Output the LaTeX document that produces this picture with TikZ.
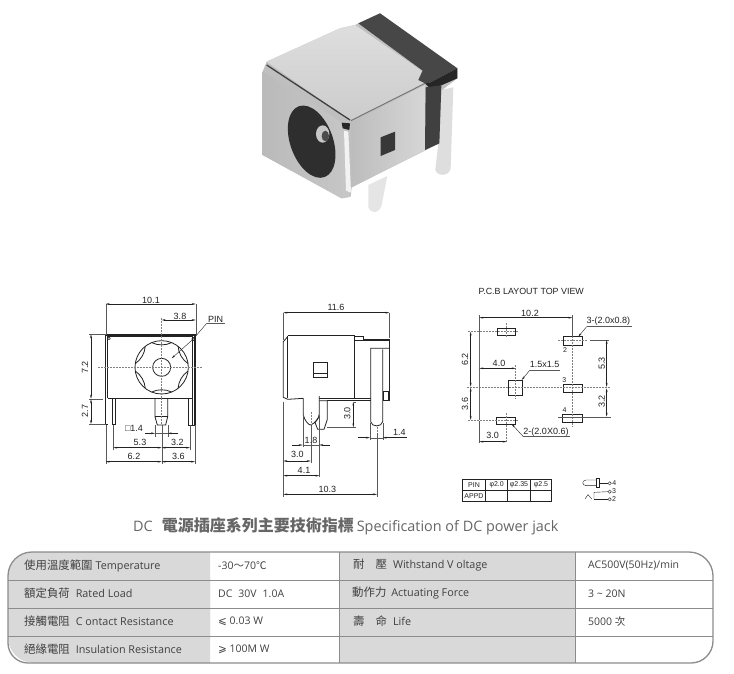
\documentclass[tikz,border=0pt]{standalone}
\usepackage{fontspec}
\usetikzlibrary{arrows.meta}
\setmainfont{Open Sans}
\newfontfamily\cjk{Noto Sans CJK TC}
\newfontfamily\dimfont{Liberation Sans}
\newfontfamily\symfont{DejaVu Sans}
\newcommand{\cj}[1]{{\cjk\fontsize{11.4}{13}\selectfont #1}}
\definecolor{tabtext}{HTML}{404040}
\definecolor{tabfill}{HTML}{D9D9D9}
\definecolor{tabline}{HTML}{8C8C8C}
\definecolor{inkline}{HTML}{222222}
\tikzset{
  dimline/.style={draw=inkline,line width=.4pt,{Stealth[length=4pt,width=1.8pt]}-{Stealth[length=4pt,width=1.8pt]}},
  dimleft/.style={draw=inkline,line width=.4pt,-{Stealth[length=4pt,width=1.8pt]}},
  extline/.style={draw=inkline!75,line width=.3pt},
  cenline/.style={draw=black!50,line width=.35pt,dash pattern=on 2pt off 1pt},
  partline/.style={draw=inkline,line width=.8pt},
  dimlab/.style={font=\dimfont\fontsize{9}{10}\selectfont,text=inkline,inner sep=0pt},
  cellhead/.style={anchor=west,inner sep=0pt,text=tabtext,font=\fontsize{10.8}{13}\selectfont},
  cellval/.style={anchor=west,inner sep=0pt,text=tabtext,font=\fontsize{10.5}{13}\selectfont},
  smallcell/.style={font=\dimfont\fontsize{7}{8}\selectfont,text=inkline,inner sep=0pt},
  rowrule/.style={draw=tabline,line width=.9pt},
}
\begin{document}
\begin{tikzpicture}[x=1pt,y=-1pt]
\useasboundingbox (0,0) rectangle (734,674);
\fill[white] (0,0) rectangle (734,674);

%% ---------- photograph ----------
\begin{scope}[shift={(240,0)},scale=1/3]
  % pins behind
  \fill[black!13] (603,270) -- (640,262) -- (632,505) .. controls (628,530) and (592,530) .. (586,510) -- (595,430) -- cycle;
  \fill[black!10] (385,555) -- (442,528) -- (425,615) .. controls (418,640) and (392,645) .. (385,620) -- cycle;
  % silhouette
  \fill[black!25] (68,215) -- (80,185) -- (300,85) -- (345,75) -- (420,40) -- (652,205) -- (652,235) -- (604,272) -- (598,430) -- (335,562) -- (332,590) -- (305,595) -- (68,465) -- cycle;
  % top face
  \shade[top color=black!13,bottom color=black!20] (80,185) -- (300,85) -- (345,75) -- (545,212) -- (535,240) -- (555,250) -- (330,360) -- cycle;
  % dark band on top
  \fill[black!72] (355,70) -- (420,40) -- (652,205) -- (570,248) -- (555,250) -- (535,240) -- (548,212) -- cycle;
  \fill[black!85] (652,205) -- (652,235) -- (604,256) -- (570,265) -- (555,250) -- (570,248) -- cycle;
  % side face
  \shade[left color=black!26,right color=black!16] (333,368) -- (555,255) -- (555,450) -- (335,562) -- cycle;
  \fill[black!75] (557,262) -- (604,256) -- (598,430) -- (555,450) -- cycle;
  % front face
  \shade[left color=black!27,right color=black!22] (68,215) -- (312,372) -- (332,590) -- (305,595) -- (68,465) -- cycle;
  \fill[black!5] (312,392) -- (325,395) -- (333,578) -- (318,572) -- cycle;
  \fill[black!85] (305,368) -- (330,370) -- (328,390) -- (308,385) -- cycle;
  \draw[black!75,line width=1.3pt] (80,195) -- (330,360);
  \draw[black!55,line width=.9pt] (333,362) -- (555,250);
  % socket opening
  \fill[black!82] (215,425) ellipse[x radius=64,y radius=113,rotate=20];
  \fill[black!22] (248,402) ellipse[x radius=20,y radius=26];
  \fill[black!70] (256,408) ellipse[x radius=11,y radius=16];
  % window
  \fill[black!78] (422,412) -- (465,395) -- (465,450) -- (422,468) -- cycle;
\end{scope}

%% ---------- front view ----------
\begin{scope}[shift={(60,280)},scale=1/3]
  \draw[partline,line width=1.1pt] (137,432) -- (137,165) -- (405,165) -- (405,435);
  \draw[partline] (143,355) -- (143,170) -- (398,170) -- (398,355);
  \draw[partline] (143,355) -- (398,355);
  \draw[partline] (143,432) -- (137,432);
  \draw[partline] (157,355) -- (157,432) -- (166,432) -- (166,355);
  \draw[partline] (385,355) -- (385,435) -- (405,435);
  \draw[partline] (397,355) -- (397,435);
  \draw[partline] (285,355) -- (285,410) -- (292,435) -- (317,435) -- (323,410) -- (323,355);
  \draw[partline,line width=.4pt] (285,410) -- (323,410);
  \draw[partline] (305,262) circle[radius=80];
  \draw[partline] (305,262) circle[radius=27];
  \foreach \a in {30,90,150,210,270,330}
    \draw[partline,shift={(305,262)}] ({\a-22}:80) .. controls ({\a-10}:66) and ({\a+10}:66) .. ({\a+22}:80);
  \draw[partline,line width=.5pt] (147,175) circle[radius=4];
  \draw[partline,line width=.5pt] (400,177) circle[radius=5];
  % centre lines
  \draw[cenline] (115,262) -- (430,262);
  \draw[cenline] (305,115) -- (305,355);
  \draw[cenline] (305,355) -- (305,435);
  % extension lines
  \draw[extline] (137,72) -- (137,165) (407,72) -- (407,165);
  \draw[extline] (88,162) -- (137,162) (88,357) -- (130,357) (88,432) -- (137,432);
  \draw[extline] (285,435) -- (285,470) (323,435) -- (323,470);
  \draw[extline] (160,435) -- (160,510) (390,435) -- (390,510);
  \draw[extline] (137,435) -- (137,552) (405,435) -- (405,552) (305,435) -- (305,552);
  % dimensions
  \draw[dimline] (137,72) -- (407,72);
  \draw[dimline] (305,120) -- (407,120);
  \draw[dimline] (93,163) -- (93,356);
  \draw[dimline] (93,358) -- (93,432);
  \draw[dimleft] (255,460) -- (285,460);
  \draw[dimleft] (355,460) -- (323,460);
  \draw[extline] (285,460) -- (323,460);
  \draw[dimline] (160,503) -- (305,503);
  \draw[dimline] (305,503) -- (390,503);
  \draw[dimline] (137,545) -- (305,545);
  \draw[dimline] (305,545) -- (405,545);
  \draw[dimleft] (440,130) -- (400,177) (400,177) -- (335,235);
  \draw[extline,line width=.4pt] (440,130) -- (495,130);
  \node[dimlab] (f101) at (273,60) {10.1};
  \node[dimlab] (f38) at (360,110) {3.8};
  \node[dimlab] (fpin) at (467,117) {PIN};
  \node[dimlab,rotate=90] (f72) at (75,262) {7.2};
  \node[dimlab,rotate=90] (f27) at (75,393) {2.7};
  \node[dimlab] (f14) at (222,445) {□1.4};
  \node[dimlab] (f53) at (240,488) {5.3};
  \node[dimlab] (f32) at (352,488) {3.2};
  \node[dimlab] (f62) at (222,530) {6.2};
  \node[dimlab] (f36) at (355,530) {3.6};
\end{scope}

%% ---------- side view ----------
\begin{scope}[shift={(250,290)},scale=1/3]
  \draw[partline] (113,137) -- (313,137) -- (313,325);
  \draw[partline] (113,140) -- (100,155) -- (100,322) -- (113,328) -- (160,325);
  \draw[partline] (113,137) -- (113,325);
  \draw[partline] (160,325) -- (160,375) .. controls (163,390) and (175,405) .. (182,405) .. controls (195,400) and (208,385) .. (208,370) -- (208,318);
  \draw[partline] (208,325) -- (362,325);
  \draw[partline] (232,332) -- (362,332);
  \draw[partline] (208,332) -- (232,332) -- (232,388) -- (222,418) -- (203,418) -- (195,397) -- (208,380);
  \draw[partline] (313,140) -- (340,140) -- (340,147) -- (418,147) -- (418,332) -- (398,332);
  \draw[partline,line width=.5pt] (313,151) -- (418,151);
  \draw[partline] (418,175) -- (362,175) -- (362,395) .. controls (365,412) and (395,412) .. (398,395) -- (398,178);
  \draw[partline] (400,303) -- (415,303) -- (415,332) (400,303) -- (400,332);
  \draw[partline] (190,218) rectangle (232,262);
  \draw[partline,line width=.5pt] (190,250) -- (232,250);
  \draw[cenline] (183,365) -- (183,405);
  \draw[cenline] (381,410) -- (381,430);
  % extension
  \draw[extline] (100,68) -- (100,150) (418,68) -- (418,145);
  \draw[extline] (232,412) -- (318,412) (313,335) -- (318,335);
  \draw[extline] (360,400) -- (360,450) (398,400) -- (398,450);
  \draw[extline] (158,375) -- (158,470) (208,375) -- (208,562);
  \draw[extline] (182,405) -- (182,520);
  \draw[extline] (100,335) -- (100,620) (381,430) -- (381,620);
  % dimensions
  \draw[dimline] (100,68) -- (418,68);
  \draw[dimline] (310,335) -- (310,412);
  \draw[dimleft] (325,443) -- (360,443);
  \draw[dimleft] (470,443) -- (398,443);
  \draw[extline] (360,443) -- (398,443);
  \draw[dimleft] (125,465) -- (158,465);
  \draw[dimleft] (240,465) -- (208,465);
  \draw[extline] (158,465) -- (208,465);
  \draw[dimline] (100,513) -- (182,513);
  \draw[dimline] (100,557) -- (208,557);
  \draw[dimline] (100,613) -- (381,613);
  \node[dimlab] (s116) at (258,52) {11.6};
  \node[dimlab,rotate=90] (s30v) at (292,370) {3.0};
  \node[dimlab] (s14) at (448,427) {1.4};
  \node[dimlab] (s18) at (183,450) {1.8};
  \node[dimlab] (s30h) at (142,492) {3.0};
  \node[dimlab] (s41) at (162,540) {4.1};
  \node[dimlab] (s103) at (232,597) {10.3};
\end{scope}

%% ---------- PCB layout ----------
\begin{scope}[shift={(450,280)},scale=1/3]
  \node[dimlab,font=\dimfont\fontsize{8.9}{10}\selectfont,anchor=west] (ptitle) at (85,35) {P.C.B LAYOUT TOP VIEW};
  \draw[partline] (142,146) rectangle (197,165);
  \draw[partline] (340,170) rectangle (397,195);
  \draw[partline] (340,313) rectangle (397,337);
  \draw[partline] (338,402) rectangle (397,426);
  \draw[partline] (140,412) rectangle (197,432);
  \draw[partline] (175,302) rectangle (218,345);
  \draw[cenline] (50,323) -- (480,323);
  \draw[cenline] (197,255) -- (197,355);
  \draw[cenline] (170,130) -- (170,175);
  \draw[cenline] (55,155) -- (207,155);
  \draw[cenline] (55,422) -- (207,422);
  \draw[cenline] (170,400) -- (170,490);
  \draw[cenline] (367,105) -- (367,440);
  \draw[cenline] (325,182) -- (410,182);
  \draw[draw=black!60,line width=1.1pt] (88,155) -- (88,420);
  \draw[extline] (88,105) -- (88,155) (367,105) -- (367,170);
  \draw[extline] (88,422) -- (88,490);
  \draw[extline] (420,180) -- (478,180) (325,412) -- (482,412);
  % dims
  \draw[dimline] (88,113) -- (367,113);
  \draw[dimline] (62,155) -- (62,320);
  \draw[dimline] (62,323) -- (62,420);
  \draw[dimline] (88,265) -- (197,265);
  \draw[dimline] (470,180) -- (470,321);
  \draw[dimline] (470,325) -- (470,410);
  \draw[dimline] (88,485) -- (170,485);
  \draw[dimleft] (240,270) -- (215,300);
  \draw[extline,line width=.4pt] (240,270) -- (330,270);
  \draw[dimleft] (410,140) -- (385,170);
  \draw[extline,line width=.4pt] (410,140) -- (545,140);
  \draw[dimleft] (220,470) -- (185,432);
  \draw[extline,line width=.4pt] (220,470) -- (360,470);
  \node[dimlab] (p102) at (240,100) {10.2};
  \node[dimlab] (p3x) at (475,125) {3-(2.0x0.8)};
  \node[dimlab,rotate=90] (p62) at (45,238) {6.2};
  \node[dimlab,rotate=90] (p36) at (45,372) {3.6};
  \node[dimlab] (p40) at (147,250) {4.0};
  \node[dimlab] (p15) at (284,252) {1.5x1.5};
  \node[dimlab,rotate=90] (p53) at (455,250) {5.3};
  \node[dimlab,rotate=90] (p32) at (455,365) {3.2};
  \node[dimlab] (p2x) at (288,458) {2-(2.0X0.6)};
  \node[dimlab] (p30) at (128,467) {3.0};
  \node[smallcell] (pn2) at (345,210) {2};
  \node[smallcell] (pn3) at (343,300) {3};
  \node[smallcell] (pn4) at (344,390) {4};
\end{scope}

%% ---------- small table and schematic ----------
\begin{scope}[shift={(450,465)},scale=1/3]
  \draw[partline,line width=.5pt] (38,42) rectangle (305,110);
  \draw[partline,line width=.5pt] (38,76) -- (305,76);
  \draw[partline,line width=.5pt] (107,42) -- (107,110) (172,42) -- (172,110) (242,42) -- (242,110);
  \node[smallcell] (t1) at (72,60) {PIN};
  \node[smallcell] (t2) at (140,60) {φ2.0};
  \node[smallcell] (t3) at (207,60) {φ2.35};
  \node[smallcell] (t4) at (273,60) {φ2.5};
  \node[smallcell] (t5) at (72,93) {APPD};
  \draw[partline,line width=.4pt] (440,45) -- (408,45) .. controls (395,47) and (395,60) .. (408,62) -- (440,62);
  \draw[partline,line width=.4pt] (440,40) rectangle (447,68);
  \draw[partline,line width=.4pt] (447,55) -- (474,55);
  \draw[partline,line width=.4pt] (479,55) circle[radius=5];
  \draw[partline,line width=.4pt] (432,102) -- (432,82) -- (474,80);
  \draw[partline,line width=.4pt] (479,80) circle[radius=5];
  \draw[partline,line width=.4pt] (432,102) -- (474,102);
  \draw[partline,line width=.4pt] (479,103) circle[radius=5];
  \draw[partline,line width=.4pt] (405,102) -- (414,89) -- (425,102);
  \node[smallcell] (sc4) at (493,55) {4};
  \node[smallcell] (sc3) at (492,79) {3};
  \node[smallcell] (sc2) at (492,103) {2};
\end{scope}

%% ---------- title ----------
\node[anchor=west,inner sep=0pt,text=black!60,font=\fontsize{14.4}{16}\selectfont] (title) at (133,526)
  {DC\hspace{9pt}{\cjk\bfseries\fontsize{16}{18}\selectfont 電源插座系列主要技術指標}\hspace{3pt}Specification of DC power jack};

%% ---------- specification table ----------
\fill[tabfill,rounded corners=26pt] (8,552) -- (8,663) -- (210,663) -- (210,552) -- cycle;
\fill[tabfill] (40,552) rectangle (210,663) (8,585) rectangle (60,640);
\fill[tabfill] (339,552) rectangle (575,663);
\draw[rowrule] (8,580) -- (713,580) (8,608) -- (713,608) (8,636) -- (713,636);
\draw[rowrule] (339,552) -- (339,663) (575,552) -- (575,663);
\draw[draw=tabline,line width=1.3pt]
  (60,552) [rounded corners=24pt] -- (8,552) [rounded corners=20pt] -- (8,663) [rounded corners=22pt] -- (713,663) [rounded corners=24pt] -- (713,552) [sharp corners] -- (60,552);

\node[cellhead] (a1) at (24,565.5) {\cj{使用溫度範圍}\hspace{3pt}Temperature};
\node[cellhead] (a2) at (24,593.5) {\cj{額定負荷}\hspace{6pt}Rated Load};
\node[cellhead] (a3) at (24,621.5) {\cj{接觸電阻}\hspace{6pt}C ontact Resistance};
\node[cellhead] (a4) at (24,649.5) {\cj{絕緣電阻}\hspace{6pt}Insulation Resistance};
\node[cellval] (b1) at (218,565.5) {-30{\cjk ～}70{\cjk ℃}};
\node[cellval] (b2) at (218,593.5) {DC\hspace{6pt}30V\hspace{6pt}1.0A};
\node[cellval] (b3) at (218,621.5) {{\symfont ⩽} 0.03 W};
\node[cellval] (b4) at (218,649.5) {{\symfont ⩾} 100M W};
\node[cellhead] (c1) at (353,565.5) {\cj{耐}\hspace{11pt}\cj{壓}\hspace{6pt}Withstand V oltage};
\node[cellhead] (c2) at (352,593.5) {\cj{動作力}\hspace{5pt}Actuating Force};
\node[cellhead] (c3) at (353,621.5) {\cj{壽}\hspace{11pt}\cj{命}\hspace{6pt}Life};
\node[cellval] (d1) at (588,565.5) {AC500V(50Hz)/min};
\node[cellval] (d2) at (588,593.5) {3 \textasciitilde{} 20N};
\node[cellval] (d3) at (588,621.5) {5000 {\cjk 次}};
\end{tikzpicture}
\end{document}
